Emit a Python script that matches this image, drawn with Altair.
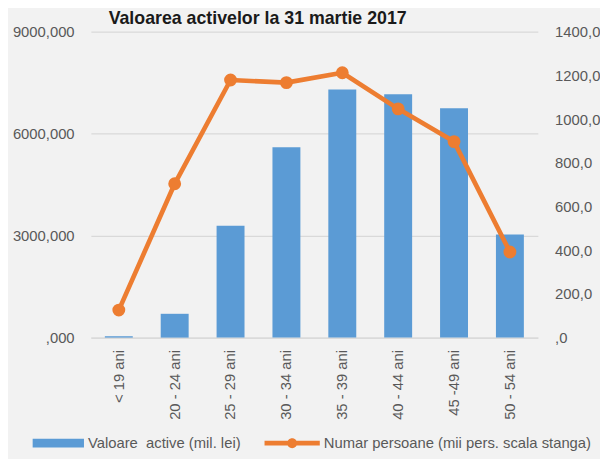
import altair as alt
import pandas as pd

categories = ["< 19 ani", "20 - 24 ani", "25 - 29 ani", "30 - 34 ani",
              "35 - 39 ani", "40 - 44 ani", "45 -49 ani", "50 - 54 ani"]
valoare_active = [40, 700, 3290, 5600, 7300, 7160, 6750, 3030]
numar_persoane = [126, 704, 1179, 1167, 1212, 1047, 897, 392]

bar_label = "Valoare\u00a0 active (mil. lei)"
line_label = "Numar persoane (mii pers. scala stanga)"
title_text = "Valoarea activelor la 31 martie 2017"

df = pd.DataFrame({
    "cat": categories,
    "val": valoare_active,
    "pers": numar_persoane,
    "s1": [bar_label] * len(categories),
    "s2": [line_label] * len(categories),
})

FONT = "Liberation Sans"
TXT = "#595959"
GRID = "#d9d9d9"
BLUE = "#5b9bd5"
ORANGE = "#ed7d31"

x_enc = alt.X(
    "cat:N", sort=categories,
    scale=alt.Scale(paddingInner=0.5, paddingOuter=0.25),
    axis=alt.Axis(title=None, labelAngle=-90, labelFontSize=15, labelFont=FONT,
                  labelColor=TXT, ticks=False, domain=True, domainColor=GRID,
                  domainWidth=1.3, labelPadding=12, grid=False),
)

bars = alt.Chart(df).mark_bar(color=BLUE).encode(
    x=x_enc,
    y=alt.Y("val:Q", scale=alt.Scale(domain=[0, 9000], nice=False),
            axis=alt.Axis(title=None, values=[0, 3000, 6000, 9000],
                          labelExpr="datum.value == 0 ? ',000' : datum.value + ',000'",
                          grid=True, gridColor=GRID, gridWidth=1.3, domain=False,
                          ticks=False, labelPadding=17, labelFontSize=15,
                          labelFont=FONT, labelColor=TXT)),
    color=alt.Color("s1:N", scale=alt.Scale(domain=[bar_label], range=[BLUE]),
                    legend=alt.Legend(title=None, orient="none", legendX=-59, legendY=391,
                                      symbolType="M-1,-0.173H1V0.173H-1Z",
                                      symbolSize=2704, symbolStrokeWidth=0,
                                      labelFontSize=15, labelFont=FONT, labelColor=TXT,
                                      labelOffset=4, labelLimit=400, padding=0)),
)

y_right = alt.Y("pers:Q", scale=alt.Scale(domain=[0, 1400], nice=False),
                axis=alt.Axis(title=None, orient="right",
                              values=[0, 200, 400, 600, 800, 1000, 1200, 1400],
                              labelExpr="datum.value == 0 ? ',0' : datum.value + ',0'",
                              grid=False, domain=False, ticks=False, labelPadding=17,
                              labelFontSize=15, labelFont=FONT, labelColor=TXT))

line = alt.Chart(df).mark_line(color=ORANGE, strokeWidth=4.7, strokeCap="round",
                               strokeJoin="round").encode(x=x_enc, y=y_right)

points = alt.Chart(df).mark_circle(size=170, opacity=1).encode(
    x=x_enc,
    y=y_right,
    color=alt.Color("s2:N", scale=alt.Scale(domain=[line_label], range=[ORANGE]),
                    legend=alt.Legend(title=None, orient="none", legendX=176, legendY=389,
                                      symbolType="M-1,-0.084H1V0.084H-1Z M0.18,0A0.18,0.18,0,1,1,-0.18,0A0.18,0.18,0,1,1,0.18,0Z",
                                      symbolSize=3136, symbolStrokeWidth=0,
                                      symbolOpacity=1,
                                      labelFontSize=15, labelFont=FONT, labelColor=TXT,
                                      labelOffset=4, labelLimit=400, padding=0)),
)

right = alt.layer(line, points)

chart = alt.layer(bars, right).resolve_scale(
    y="independent", color="independent"
).properties(
    width=453, height=310,
    title=alt.TitleParams(title_text, anchor="start", frame="group", dx=18, dy=7,
                          fontSize=18, fontWeight="bold", font=FONT, color="#1a1a1a"),
    autosize=alt.AutoSizeParams(type="none"),
    padding={"left": 84, "top": 21, "right": 63, "bottom": 120},
).configure(
    background="#f2f2f2",
).configure_view(
    stroke=None,
)

chart.save("out.html", embed_options={"renderer": "svg", "actions": False})
